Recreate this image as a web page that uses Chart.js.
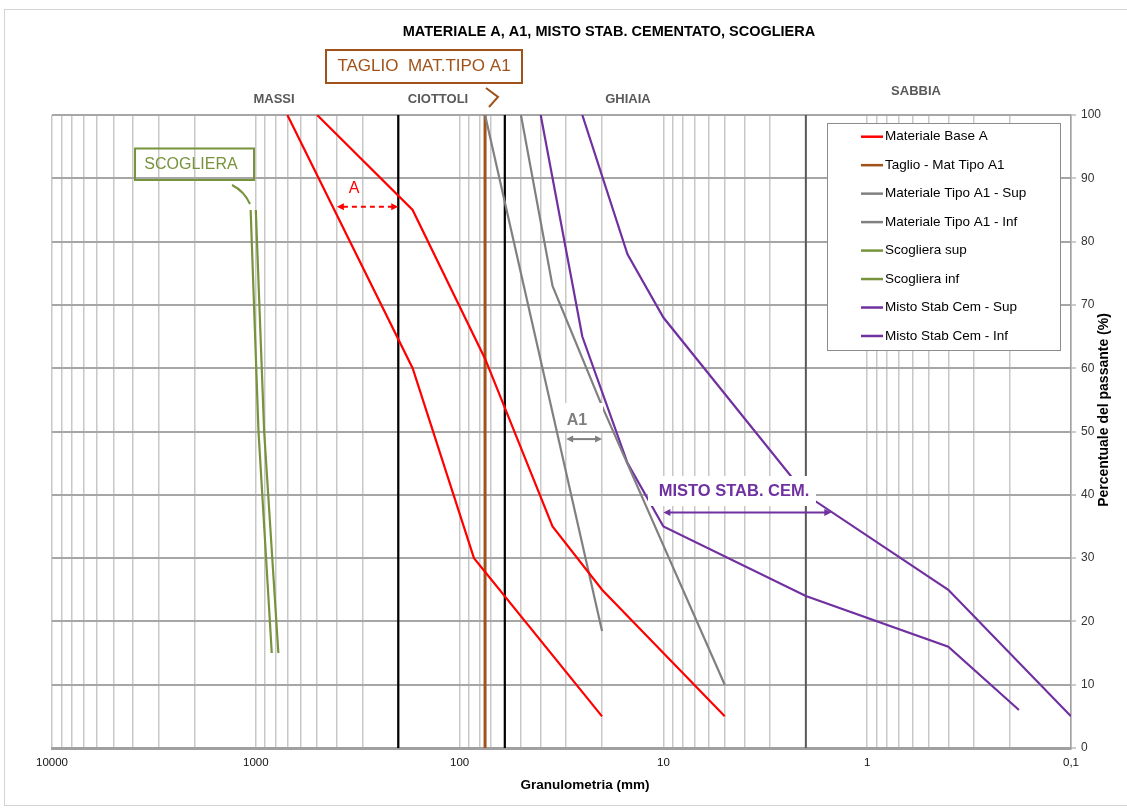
<!DOCTYPE html>
<html>
<head>
<meta charset="utf-8">
<script src="https://cdn.jsdelivr.net/npm/chart.js@4.4.1/dist/chart.umd.min.js"></script>
<style>
  html, body { margin: 0; padding: 0; background: #fff; }
  #wrap { width: 1127px; height: 809px; position: relative; }
</style>
</head>
<body>
<div id="wrap"><canvas id="curve" width="1127" height="809"></canvas></div>
<script>
// x axis decades (mm) and their labels, comma decimal as in the original
const xDecades = [10000, 1000, 100, 10, 1, 0.1];
const xDecadeLabels = ['10000', '1000', '100', '10', '1', '0,1'];

// Materiale Base A - two envelope curves (mm / % passante)
const baseA1_mm  = [700, 170, 85, 20];
const baseA1_pct = [100, 60, 30, 5];
const baseA2_mm  = [500, 170, 75, 35, 20, 5];
const baseA2_pct = [100, 85, 61.5, 35, 25, 5];

// Materiale Tipo A1
const tipoA1Sup_mm  = [50, 35, 20, 5];
const tipoA1Sup_pct = [100, 73, 54, 10];
const tipoA1Inf_mm  = [75, 20];
const tipoA1Inf_pct = [100, 18.5];

// Scogliera
const scoglieraSup_mm  = [1000, 910, 775];
const scoglieraSup_pct = [85, 50, 15];
const scoglieraInf_mm  = [1060, 970, 835];
const scoglieraInf_pct = [85, 50, 15];

// Misto stabilizzato a cemento
const mistoSup_mm  = [25, 15, 10, 2, 0.4, 0.1];
const mistoSup_pct = [100, 78, 68, 40, 25, 5];
const mistoInf_mm  = [40, 25, 15, 10, 2, 0.4, 0.18];
const mistoInf_pct = [100, 65, 45, 35, 24, 16, 6];

// vertical lines (mm): cut of Tipo A1, class limits massi/ciottoli/ghiaia/sabbia
const taglioA1_mm = 75;
const limitsBlack_mm = [200, 60];
const limitSabbia_mm = 2;

const FONT = "'Liberation Sans', Arial, sans-serif";
const RED = '#FF0000', BROWN = '#A0521A', GRAY = '#808080', GREEN = '#77933C', PURPLE = '#7030A0';

function pts(xs, ys) {
    return xs.map((x, i) => ({ x: x, y: ys[i] }));
}
function vline(x) {
    return [{ x: x, y: 0 }, { x: x, y: 100 }];
}
function curve(label, xs, ys, color, inLegend) {
    return { label, data: pts(xs, ys), borderColor: color, backgroundColor: color,
             borderWidth: 2.2, inLegend, order: 1 };
}

const datasets = [
    curve('Materiale Base A', baseA1_mm, baseA1_pct, RED, true),
    curve('Materiale Base A (2)', baseA2_mm, baseA2_pct, RED, false),
    { label: 'Taglio - Mat Tipo A1', data: vline(taglioA1_mm), borderColor: BROWN,
      backgroundColor: BROWN, borderWidth: 3, inLegend: true, order: 2 },
    curve('Materiale Tipo A1 - Sup', tipoA1Sup_mm, tipoA1Sup_pct, GRAY, true),
    curve('Materiale Tipo A1 - Inf', tipoA1Inf_mm, tipoA1Inf_pct, GRAY, true),
    curve('Scogliera sup', scoglieraSup_mm, scoglieraSup_pct, GREEN, true),
    curve('Scogliera inf', scoglieraInf_mm, scoglieraInf_pct, GREEN, true),
    curve('Misto Stab Cem - Sup', mistoSup_mm, mistoSup_pct, PURPLE, true),
    curve('Misto Stab Cem - Inf', mistoInf_mm, mistoInf_pct, PURPLE, true),
];
limitsBlack_mm.forEach(v => datasets.push({ label: 'limite ' + v, data: vline(v),
    borderColor: '#000', borderWidth: 2.2, inLegend: false, order: 3 }));
datasets.push({ label: 'limite ' + limitSabbia_mm, data: vline(limitSabbia_mm),
    borderColor: '#5a5a5a', borderWidth: 2, inLegend: false, order: 3 });

function arrow(ctx, xa, xb, y, color, dashed) {
    const x1 = Math.min(xa, xb), x2 = Math.max(xa, xb), h = 7;
    ctx.save();
    ctx.strokeStyle = color; ctx.fillStyle = color; ctx.lineWidth = 2;
    if (dashed) ctx.setLineDash([5, 4]);
    ctx.beginPath(); ctx.moveTo(x1 + h - 1, y); ctx.lineTo(x2 - h + 1, y); ctx.stroke();
    ctx.setLineDash([]);
    [[x1, 1], [x2, -1]].forEach(([x, d]) => {
        ctx.beginPath();
        ctx.moveTo(x, y); ctx.lineTo(x + d * h, y - 3.5); ctx.lineTo(x + d * h, y + 3.5);
        ctx.closePath(); ctx.fill();
    });
    ctx.restore();
}

function text(ctx, str, x, y, font, color, align) {
    ctx.font = font; ctx.fillStyle = color;
    ctx.textAlign = align || 'center'; ctx.textBaseline = 'middle';
    ctx.fillText(str, x, y);
}

const overlay = {
    id: 'overlay',
    afterDraw(chart) {
        const ctx = chart.ctx, xs = chart.scales.x, ys = chart.scales.y;
        ctx.save();

        // outer frame
        ctx.strokeStyle = '#d4d4d4'; ctx.lineWidth = 1;
        ctx.strokeRect(4.5, 9.5, 1130, 796);

        text(ctx, 'MATERIALE A, A1, MISTO STAB. CEMENTATO, SCOGLIERA', 609, 32, 'bold 14.5px ' + FONT, '#000');

        // class names
        const cls = 'bold 13px ' + FONT;
        text(ctx, 'MASSI', 274, 99, cls, '#595959');
        text(ctx, 'CIOTTOLI', 438, 99, cls, '#595959');
        text(ctx, 'GHIAIA', 628, 99, cls, '#595959');
        text(ctx, 'SABBIA', 916, 91, cls, '#595959');

        // Taglio box
        ctx.strokeStyle = BROWN; ctx.lineWidth = 2;
        ctx.strokeRect(326, 50, 196, 33);
        text(ctx, 'TAGLIO  MAT.TIPO A1', 424, 66.5, '17px ' + FONT, BROWN);
        ctx.beginPath(); ctx.moveTo(486, 88); ctx.lineTo(498, 97); ctx.lineTo(489, 107); ctx.stroke();

        // Scogliera box
        ctx.strokeStyle = GREEN; ctx.lineWidth = 2;
        ctx.strokeRect(135, 148.5, 119, 31.5);
        text(ctx, 'SCOGLIERA', 191, 164.5, '16px ' + FONT, GREEN);
        ctx.beginPath(); ctx.moveTo(232, 185); ctx.quadraticCurveTo(244, 191, 250, 204); ctx.stroke();

        // A
        text(ctx, 'A', 354, 189, '16px ' + FONT, RED);
        arrow(ctx, xs.getPixelForValue(400), xs.getPixelForValue(200), ys.getPixelForValue(85.5), RED, true);

        // A1
        ctx.fillStyle = '#fff'; ctx.fillRect(561, 403, 42, 28);
        text(ctx, 'A1', 577, 421, 'bold 16px ' + FONT, '#7f7f7f');
        arrow(ctx, xs.getPixelForValue(30), xs.getPixelForValue(20), ys.getPixelForValue(48.8), GRAY, false);

        // Misto stab. cem.
        ctx.fillStyle = '#fff'; ctx.fillRect(648, 476, 168, 30);
        text(ctx, 'MISTO STAB. CEM.', 734, 491, 'bold 16.5px ' + FONT, PURPLE);
        arrow(ctx, xs.getPixelForValue(10), xs.getPixelForValue(1.5), ys.getPixelForValue(37.2), PURPLE, false);

        // legend inside the plot
        const lx = 827.5, ly = 123.5, lw = 233, lh = 227;
        ctx.fillStyle = '#fff'; ctx.fillRect(lx, ly, lw, lh);
        ctx.strokeStyle = '#8c8c8c'; ctx.lineWidth = 1; ctx.strokeRect(lx, ly, lw, lh);
        chart.data.datasets.filter(d => d.inLegend).forEach((d, i) => {
            const y = 136.7 + i * 28.47;
            ctx.strokeStyle = d.borderColor; ctx.lineWidth = 2.5;
            ctx.beginPath(); ctx.moveTo(861, y); ctx.lineTo(883, y); ctx.stroke();
            text(ctx, d.label, 885, y, '13.5px ' + FONT, '#000', 'left');
        });

        // axis titles
        text(ctx, 'Granulometria (mm)', 585, 785, 'bold 13.5px ' + FONT, '#000');
        ctx.translate(1104, 410);
        ctx.rotate(-Math.PI / 2);
        text(ctx, 'Percentuale del passante (%)', 0, 0, 'bold 14px ' + FONT, '#000');
        ctx.restore();
    }
};

new Chart(document.getElementById('curve').getContext('2d'), {
    type: 'line',
    data: { datasets },
    options: {
        responsive: false,
        animation: false,
        devicePixelRatio: 1,
        parsing: false,
        layout: { padding: { left: 52, top: 115, right: 0, bottom: 0 } },
        elements: { point: { radius: 0 }, line: { tension: 0, fill: false } },
        plugins: { legend: { display: false }, title: { display: false }, tooltip: { enabled: false } },
        scales: {
            x: {
                type: 'logarithmic',
                reverse: true,
                min: 0.1,
                max: 10000,
                afterBuildTicks: scale => {
                    const t = [];
                    for (let e = -1; e <= 3; e++) {
                        for (let k = 1; k <= 9; k++) t.push({ value: k * Math.pow(10, e) });
                    }
                    t.push({ value: 10000 });
                    scale.ticks = t;
                },
                afterFit: scale => { scale.height = 61; },
                grid: { color: '#c8c8c8', lineWidth: 1.5, drawTicks: false },
                border: { color: '#a0a0a0', width: 3 },
                ticks: {
                    autoSkip: false,
                    maxRotation: 0,
                    padding: 8,
                    color: '#111',
                    font: { family: FONT, size: 11.5 },
                    callback: v => {
                        const i = xDecades.findIndex(d => Math.abs(d - v) < d * 1e-6);
                        return i >= 0 ? xDecadeLabels[i] : '';
                    }
                }
            },
            y: {
                type: 'linear',
                position: 'right',
                min: 0,
                max: 100,
                afterFit: scale => { scale.width = 56; },
                grid: { color: '#a6a6a6', lineWidth: 2, tickLength: 5, tickColor: '#999', tickWidth: 1 },
                border: { color: '#a0a0a0', width: 1.5 },
                ticks: { stepSize: 10, padding: 5, color: '#333', font: { family: FONT, size: 12 } }
            }
        }
    },
    plugins: [overlay]
});
</script>
</body>
</html>
